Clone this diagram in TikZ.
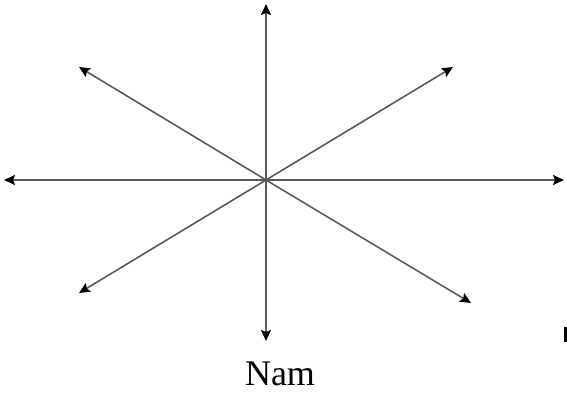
\documentclass[tikz,border=0pt]{standalone}
\usepackage{fontspec}
\setmainfont{Liberation Serif}
\usetikzlibrary{arrows.meta}
\begin{document}
\begin{tikzpicture}[x=1pt,y=-1pt,
  ray/.style={draw=black!65,line width=1.6pt,-{Stealth[length=11pt,width=10pt,black,inset=2pt]}}]
\useasboundingbox (0,0) rectangle (567,395);
\coordinate (c) at (266,180);
\coordinate (n) at (266,4);
\coordinate (s) at (266,341);
\coordinate (w) at (4,180);
\coordinate (e) at (564,180);
\coordinate (nw) at (79,67);
\coordinate (ne) at (453,67);
\coordinate (sw) at (79,293);
\coordinate (se) at (471,303);
\foreach \t in {n,s,w,e,nw,ne,sw,se} \draw[ray] (c) -- (\t);
\node[font=\fontsize{36}{42}\selectfont,inner sep=0pt,anchor=base] (lab) at (280,385) {Nam};
\fill[black] (564,327) rectangle (567,342);
\end{tikzpicture}
\end{document}
